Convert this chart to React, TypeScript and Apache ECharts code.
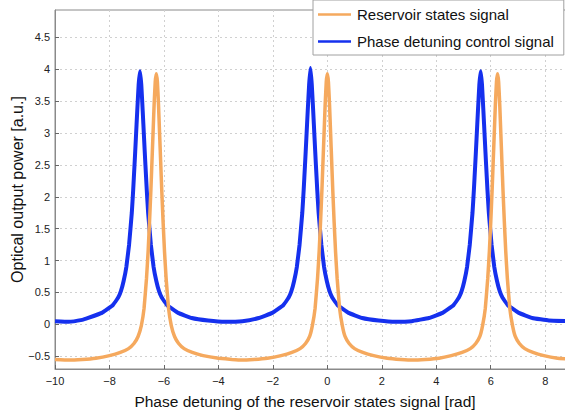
import React, { useEffect, useRef } from "react";
import * as echarts from "echarts";

// Reservoir states signal (orange): [phase, power]
const reservoirX = [
  -10, -9.5, -9.0, -8.5, -8.0, -7.6, -7.3, -7.1, -6.95, -6.83, -6.73, -6.64, -6.58, -6.53, -6.48, -6.44, -6.4, -6.36, -6.32,
  -6.28, -6.24, -6.2, -6.16, -6.12, -6.08, -6.03, -5.98, -5.92, -5.83, -5.73, -5.61, -5.46, -5.26, -4.96, -4.56, -4.0,
  -3.5, -3.14, -2.7, -2.2, -1.7, -1.3, -1.0, -0.8, -0.65, -0.55, -0.45, -0.36, -0.3, -0.25, -0.2, -0.16, -0.12, -0.08, -0.04,
  0, 0.04, 0.08, 0.12, 0.16, 0.2, 0.25, 0.3, 0.36, 0.45, 0.55, 0.65, 0.8, 1.0, 1.3, 1.7, 2.2, 2.7, 3.14, 3.6, 4.1, 4.55,
  4.95, 5.25, 5.45, 5.6, 5.7, 5.8, 5.89, 5.95, 6.0, 6.05, 6.09, 6.13, 6.17, 6.21, 6.25, 6.29, 6.33, 6.37, 6.41, 6.45, 6.5,
  6.55, 6.61, 6.7, 6.8, 6.9, 7.05, 7.25, 7.55, 7.95, 8.45, 8.8,
];
const reservoirY = [
  -0.55, -0.56, -0.55, -0.53, -0.49, -0.44, -0.38, -0.3, -0.19, -0.02, 0.25, 0.72, 1.15, 1.6, 2.1, 2.55, 3.0, 3.45, 3.8,
  3.93, 3.8, 3.45, 3.0, 2.55, 2.1, 1.6, 1.15, 0.72, 0.25, -0.02, -0.19, -0.3, -0.38, -0.44, -0.49, -0.53,
  -0.55, -0.56, -0.55, -0.53, -0.49, -0.44, -0.38, -0.3, -0.19, -0.02, 0.25, 0.72, 1.15, 1.6, 2.1, 2.55, 3.0, 3.45, 3.8,
  3.93, 3.8, 3.45, 3.0, 2.55, 2.1, 1.6, 1.15, 0.72, 0.25, -0.02, -0.19, -0.3, -0.38, -0.44, -0.49, -0.53, -0.55, -0.56, -0.55, -0.53, -0.49,
  -0.44, -0.38, -0.3, -0.19, -0.02, 0.25, 0.72, 1.15, 1.6, 2.1, 2.55, 3.0, 3.45, 3.8, 3.93, 3.8, 3.45, 3.0, 2.55, 2.1, 1.6,
  1.15, 0.72, 0.25, -0.02, -0.19, -0.3, -0.38, -0.44, -0.49, -0.53, -0.54,
];

// Phase detuning control signal (blue): [phase, power]
const controlX = [
  -10, -9.5, -9.0, -8.78, -8.28, -7.88, -7.68, -7.58, -7.48, -7.38, -7.28, -7.18, -7.13, -7.08, -7.03, -6.98, -6.93,
  -6.88, -6.83, -6.78, -6.73, -6.68, -6.63, -6.58, -6.48, -6.38, -6.28, -6.18, -6.08, -5.88, -5.48, -4.98, -4.38, -3.75,
  -3.12, -2.52, -2.02, -1.62, -1.42, -1.32, -1.22, -1.12, -1.02, -0.92, -0.87, -0.82, -0.77, -0.72, -0.67,
  -0.62, -0.57, -0.52, -0.47, -0.42, -0.37, -0.32, -0.22, -0.12, -0.02, 0.08, 0.18, 0.38, 0.78, 1.28, 1.88, 2.5,
  3.1, 3.73, 4.23, 4.63, 4.83, 4.93, 5.03, 5.13, 5.23, 5.33, 5.38, 5.43, 5.48, 5.53, 5.58,
  5.63, 5.68, 5.73, 5.78, 5.83, 5.88, 5.93, 6.03, 6.13, 6.23, 6.33, 6.43, 6.63, 7.03, 7.53, 8.13, 8.8,
];
const controlY = [
  0.05, 0.04, 0.07, 0.1, 0.18, 0.3, 0.42, 0.52, 0.68, 0.9, 1.25, 1.75, 2.1, 2.5, 2.92, 3.35, 3.75,
  3.97, 3.75, 3.35, 2.92, 2.5, 2.1, 1.75, 1.25, 0.9, 0.68, 0.52, 0.42, 0.3, 0.18, 0.1, 0.06, 0.04,
  0.05, 0.1, 0.18, 0.3, 0.42, 0.52, 0.68, 0.9, 1.25, 1.75, 2.1, 2.5, 2.92, 3.35, 3.75,
  4.02, 3.75, 3.35, 2.92, 2.5, 2.1, 1.75, 1.25, 0.9, 0.68, 0.52, 0.42, 0.3, 0.18, 0.1, 0.06, 0.04,
  0.05, 0.1, 0.18, 0.3, 0.42, 0.52, 0.68, 0.9, 1.25, 1.75, 2.1, 2.5, 2.92, 3.35, 3.75,
  3.97, 3.75, 3.35, 2.92, 2.5, 2.1, 1.75, 1.25, 0.9, 0.68, 0.52, 0.42, 0.3, 0.18, 0.1, 0.06, 0.05,
];

const yTicks = [-0.5, 0, 0.5, 1, 1.5, 2, 2.5, 3, 3.5, 4, 4.5];
const xTicks = [-10, -8, -6, -4, -2, 0, 2, 4, 6, 8];

const seriesNames = ["Reservoir states signal", "Phase detuning control signal"];
const xAxisTitle = "Phase detuning of the reservoir states signal [rad]";
const yAxisTitle = "Optical output power [a.u.]";

const FONT = "Liberation Sans, Arial, Helvetica, sans-serif";
const fmt = (v: number) => (v < 0 ? "\u2212" + Math.abs(v) : String(v));

export default function App() {
  const ref = useRef<HTMLDivElement>(null);
  useEffect(() => {
    if (!ref.current) return;
    const chart = echarts.init(ref.current, null, { renderer: "svg" });
    const zip = (xs: number[], ys: number[]) => xs.map((x, i) => [x, ys[i]]);
    chart.setOption({
      animation: false,
      backgroundColor: "#ffffff",
      textStyle: { fontFamily: FONT },
      grid: {
        left: 55,
        right: -2,
        top: 10,
        bottom: 43,
        outerBoundsMode: "none",
        containLabel: false,
        show: true,
        borderColor: "#8a8a8a",
        borderWidth: 1,
      },
      legend: {
        data: seriesNames,
        orient: "vertical",
        left: 313,
        top: 0,
        padding: [7, 10, 6, 5],
        itemGap: 12,
        itemWidth: 33,
        itemHeight: 2.5,
        icon: "rect",
        backgroundColor: "#ffffff",
        borderColor: "#a0a0a0",
        borderWidth: 1,
        borderRadius: 0,
        textStyle: { fontFamily: FONT, fontSize: 15, color: "#111", padding: [0, 0, 0, 1] },
      },
      xAxis: {
        type: "value",
        min: -10,
        max: 8.8,
        name: xAxisTitle,
        nameLocation: "middle",
        nameGap: 24,
        nameMoveOverlap: false,
        nameTextStyle: { fontFamily: FONT, fontSize: 15.5, color: "#111", padding: [0, 12, 0, 0] },
        axisLine: { onZero: false, lineStyle: { color: "#8a8a8a" } },
        axisTick: { inside: true, length: 4, customValues: xTicks, lineStyle: { color: "#666" } },
        axisLabel: {
          fontFamily: FONT,
          fontSize: 11,
          color: "#222",
          margin: 6,
          customValues: xTicks,
          formatter: fmt,
        },
        splitLine: { show: true, lineStyle: { color: "#d0d0d0", type: [2, 3] } },
      },
      yAxis: {
        type: "value",
        min: -0.7,
        max: 4.93,
        name: yAxisTitle,
        nameLocation: "middle",
        nameGap: 30,
        nameMoveOverlap: false,
        nameTextStyle: { fontFamily: FONT, fontSize: 16, color: "#111" },
        axisLine: { show: true, onZero: false, lineStyle: { color: "#8a8a8a" } },
        axisTick: { show: true, inside: true, length: 4, customValues: yTicks, lineStyle: { color: "#666" } },
        axisLabel: {
          fontFamily: FONT,
          fontSize: 11,
          color: "#222",
          margin: 5,
          customValues: yTicks,
          formatter: fmt,
        },
        splitLine: { show: true, lineStyle: { color: "#d0d0d0", type: [2, 3] } },
      },
      series: [
        {
          name: seriesNames[1],
          type: "line",
          data: zip(controlX, controlY),
          showSymbol: false,
          smooth: 0.08,
          lineStyle: { color: "#1530ee", width: 4 },
          itemStyle: { color: "#1530ee" },
          z: 2,
        },
        {
          name: seriesNames[0],
          type: "line",
          data: zip(reservoirX, reservoirY),
          showSymbol: false,
          smooth: 0.08,
          lineStyle: { color: "#f5a95e", width: 3.5 },
          itemStyle: { color: "#f5a95e" },
          z: 3,
        },
      ],
    });
    return () => chart.dispose();
  }, []);
  return (
    <div
      ref={ref}
      style={{ position: "fixed", left: 0, top: 0, width: 565, height: 412 }}
    />
  );
}
